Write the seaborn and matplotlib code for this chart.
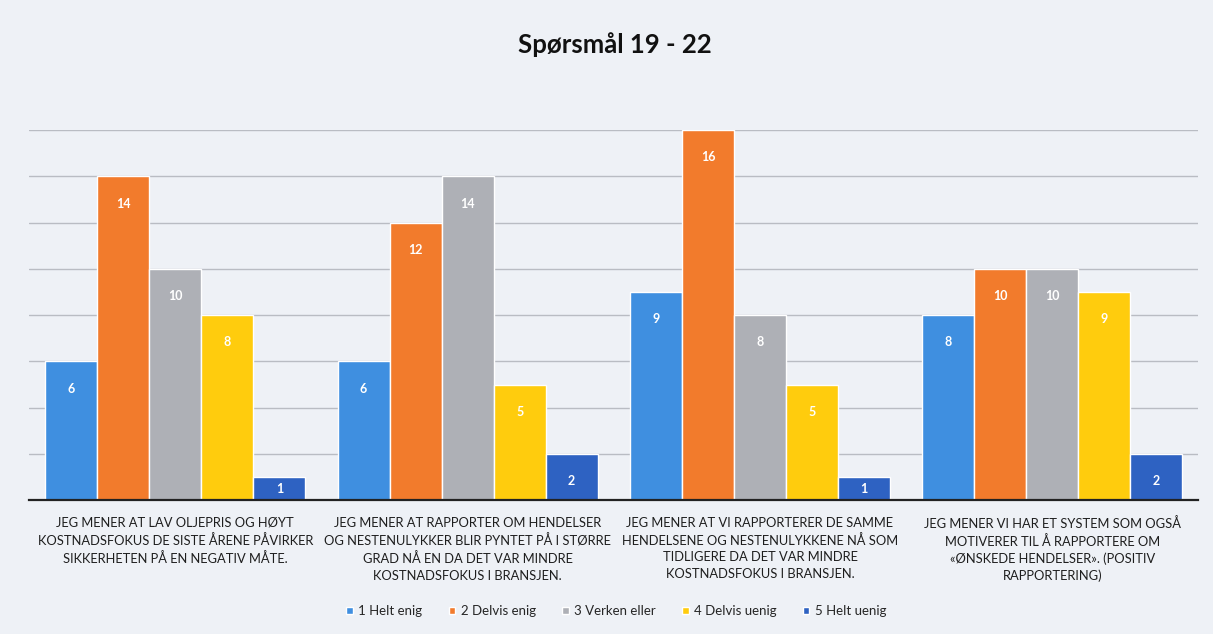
import matplotlib
matplotlib.use("Agg")
import matplotlib.pyplot as plt
import seaborn as sns
import pandas as pd

categories = [
    "JEG MENER AT LAV OLJEPRIS OG HØYT\nKOSTNADSFOKUS DE SISTE ÅRENE PÅVIRKER\nSIKKERHETEN PÅ EN NEGATIV MÅTE.",
    "JEG MENER AT RAPPORTER OM HENDELSER\nOG NESTENULYKKER BLIR PYNTET PÅ I STØRRE\nGRAD NÅ EN DA DET VAR MINDRE\nKOSTNADSFOKUS I BRANSJEN.",
    "JEG MENER AT VI RAPPORTERER DE SAMME\nHENDELSENE OG NESTENULYKKENE NÅ SOM\nTIDLIGERE DA DET VAR MINDRE\nKOSTNADSFOKUS I BRANSJEN.",
    "JEG MENER VI HAR ET SYSTEM SOM OGSÅ\nMOTIVERER TIL Å RAPPORTERE OM\n«ØNSKEDE HENDELSER». (POSITIV\nRAPPORTERING)",
]
series = ["1 Helt enig", "2 Delvis enig", "3 Verken eller", "4 Delvis uenig", "5 Helt uenig"]
helt_enig = [6, 6, 9, 8]
delvis_enig = [14, 12, 16, 10]
verken_eller = [10, 14, 8, 10]
delvis_uenig = [8, 5, 5, 9]
helt_uenig = [1, 2, 1, 2]
colors = ["#3F8FE0", "#F27B2C", "#AEB0B6", "#FFCC0D", "#2E62C2"]

values = [helt_enig, delvis_enig, verken_eller, delvis_uenig, helt_uenig]
rows = []
for s, vals in zip(series, values):
    for c, v in zip(categories, vals):
        rows.append({"cat": c, "series": s, "value": v})
df = pd.DataFrame(rows)

sns.set_theme(style="white")
plt.rcParams["font.family"] = ["Lato", "DejaVu Sans"]

bg = "#EEF1F6"
fig = plt.figure(figsize=(12.13, 6.34), dpi=100, facecolor=bg)
ax = fig.add_axes([0.024, 0.211, 0.964, 0.584])
ax.set_facecolor(bg)

sns.barplot(data=df, x="cat", y="value", hue="series", order=categories,
            hue_order=series, palette=colors, width=0.89, saturation=1,
            ax=ax, legend=True)

ax.set_ylim(0, 16)
ax.set_yticks(range(2, 17, 2))
ax.yaxis.grid(True, color="#B9BCC3", linewidth=1.0)
ax.set_axisbelow(True)
ax.set_yticklabels([])
ax.tick_params(axis="y", length=0)
ax.tick_params(axis="x", length=0, pad=12, labelsize=9.3, colors="#1E1E1E")
ax.set_xlabel("")
ax.set_ylabel("")
for side in ["top", "right", "left"]:
    ax.spines[side].set_visible(False)
ax.spines["bottom"].set_color("#222222")
ax.spines["bottom"].set_linewidth(1.6)
ax.set_xlim(-0.5, 3.5)
for lbl in ax.get_xticklabels():
    lbl.set_linespacing(1.45)

for cont, vals in zip(ax.containers, values):
    top_labels = [str(v) if v > 1 else "" for v in vals]
    mid_labels = [str(v) if v <= 1 else "" for v in vals]
    ax.bar_label(cont, labels=top_labels, label_type="edge", padding=-24,
                 color="white", fontsize=9, fontweight="bold")
    ax.bar_label(cont, labels=mid_labels, label_type="center",
                 color="white", fontsize=9, fontweight="bold")

ax.legend(loc="center", bbox_to_anchor=(0.508, 0.036), bbox_transform=fig.transFigure,
          ncol=5, frameon=False, fontsize=9.5, handlelength=0.5, handleheight=0.5,
          columnspacing=2.0, handletextpad=0.4, title=None)

fig.text(0.507, 0.929, "Spørsmål 19 - 22", ha="center", va="center",
         fontsize=18.5, fontweight="bold", color="#111111")

fig.savefig("out.png", dpi=100, facecolor=bg)
